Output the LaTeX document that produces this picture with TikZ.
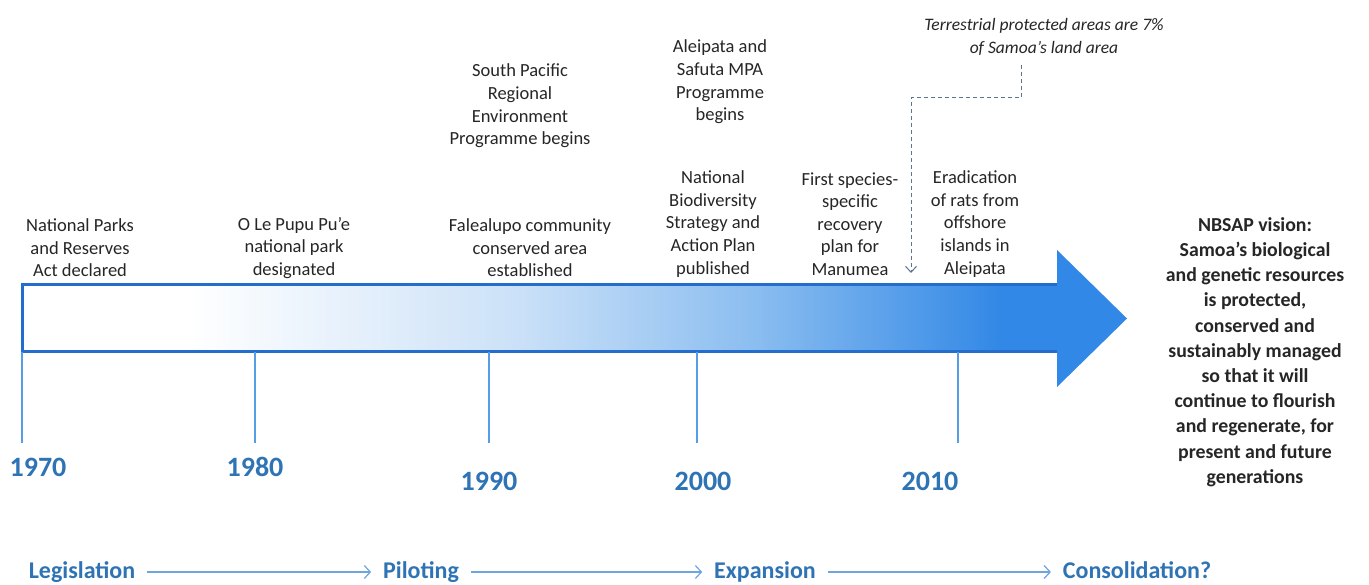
\documentclass[tikz,border=0pt]{standalone}
\usepackage{fontspec}
\setmainfont{Carlito}
\usetikzlibrary{arrows.meta}
\definecolor{yearblue}{RGB}{46,116,181}
\definecolor{shA}{RGB}{205,226,248}
\definecolor{shB}{RGB}{140,190,240}
\definecolor{shC}{RGB}{50,136,230}
\definecolor{outl}{RGB}{35,110,205}
\definecolor{tickc}{RGB}{85,158,230}
\definecolor{phasec}{RGB}{110,165,225}
\definecolor{dashc}{RGB}{95,115,145}
\pgfdeclarehorizontalshading{tlshade}{100bp}{color(0bp)=(white); color(32.5bp)=(white); color(47bp)=(shA); color(58bp)=(shB); color(69.3bp)=(shC); color(100bp)=(shC)}
\begin{document}
\begin{tikzpicture}[x=1pt,y=-1pt,
  evt/.style={align=center, font=\fontsize{18.5}{22.6}\selectfont, text=black!85, inner sep=0pt},
  yr/.style={font=\fontsize{28}{30}\selectfont\bfseries, text=yearblue, inner sep=0pt},
  phase/.style={font=\fontsize{24}{26}\selectfont\bfseries, text=yearblue, inner sep=0pt, outer sep=12pt, text height=16pt, text depth=3pt},
  phasearrow/.style={draw=phasec, line width=1.2pt, -{Straight Barb[length=6pt,width=13pt,line width=1.2pt]}},
  tickline/.style={draw=tickc, line width=1.5pt},
  vision/.style={align=center, font=\fontsize{19.8}{25.2}\selectfont\bfseries, text=black!85, inner sep=0pt},
  note/.style={align=center, font=\fontsize{17.5}{23}\selectfont\itshape, text=black!85, inner sep=0pt},
  dashline/.style={draw=dashc, line width=1pt, dash pattern=on 4pt off 3pt}
]
\useasboundingbox (0,0) rectangle (1369,585);
\fill[white] (0,0) rectangle (1369,585);

% main arrow
\path[shading=tlshade] (22,285) -- (1057,285) -- (1057,250) -- (1127,318.5) -- (1057,387) -- (1057,352) -- (22,352) -- cycle;
\draw[outl, line width=3pt, line join=miter] (1057,285) -- (22,285) -- (22,352) -- (1057,352);

% ticks
\foreach \n/\x in {a/22,b/255,c/489,d/697,e/958}{
  \coordinate (t\n) at (\x,352);
  \coordinate (b\n) at (\x,443);
  \draw[tickline] (t\n) -- (b\n);
}

% years
\node[yr] (y1970) at (38,467) {1970};
\node[yr] (y1980) at (255,467) {1980};
\node[yr] (y1990) at (489,481) {1990};
\node[yr] (y2000) at (703,481) {2000};
\node[yr] (y2010) at (930,481) {2010};

% events
\node[evt] (e1) at (80,248) {National Parks\\and Reserves\\Act declared};
\node[evt] (e2) at (294,248) {O Le Pupu Pu’e\\national park\\designated};
\node[evt] (e3) at (530,248) {Falealupo community\\conserved area\\established};
\node[evt] (e4) at (520,106) {South Pacific\\Regional\\Environment\\Programme begins};
\node[evt] (e5) at (720,82) {Aleipata and\\Safuta MPA\\Programme\\begins};
\node[evt] (e6) at (713,224) {National\\Biodiversity\\Strategy and\\Action Plan\\published};
\node[evt] (e7) at (850,224) {First species-\\specific\\recovery\\plan for\\Manumea};
\node[evt] (e8) at (975,224) {Eradication\\of rats from\\offshore\\islands in\\Aleipata};

% note and dashed connector
\node[note] (tpa) at (1044,37) {Terrestrial protected areas are 7\%\\of Samoa’s land area};
\coordinate (d1) at (1021,65);
\coordinate (d2) at (911,98);
\coordinate (d3) at (911,273);
\draw[dashline, -{Straight Barb[length=6pt,width=11pt,line width=1pt]}] (d1) |- (d2) -- (d3);

% vision
\node[vision] (vis) at (1255,352) {NBSAP vision:\\Samoa’s biological\\and genetic resources\\is protected,\\conserved and\\sustainably managed\\so that it will\\continue to flourish\\and regenerate, for\\present and future\\generations};

% phases
\node[phase] (leg) at (82,572) {Legislation};
\node[phase] (pil) at (421,572) {Piloting};
\node[phase] (exp) at (765,572) {Expansion};
\node[phase] (con) at (1137,572) {Consolidation?};
\draw[phasearrow] (leg) -- (pil);
\draw[phasearrow] (pil) -- (exp);
\draw[phasearrow] (exp) -- (con);
\end{tikzpicture}
\end{document}
